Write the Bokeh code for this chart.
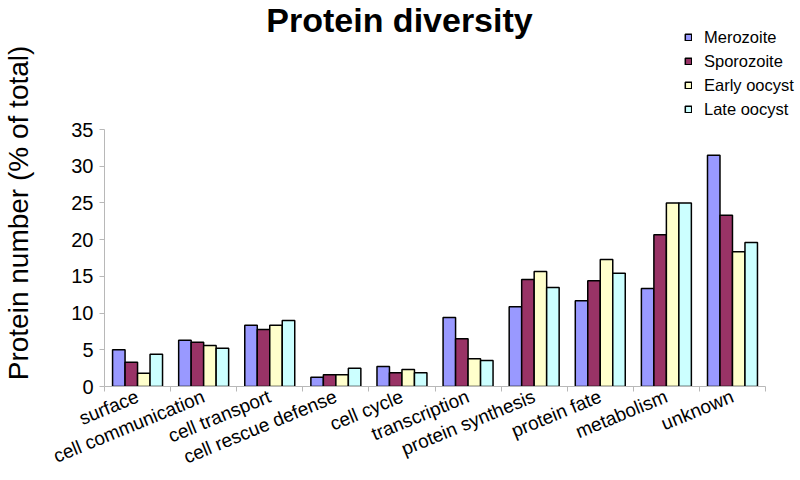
import math
from bokeh.plotting import figure
from bokeh.models import (Range1d, FixedTicker, Label, Legend, LegendItem, ColumnDataSource)
from bokeh.embed import file_html
from bokeh.resources import INLINE

categories = ["surface", "cell communication", "cell transport", "cell rescue defense",
              "cell cycle", "transcription", "protein synthesis", "protein fate",
              "metabolism", "unknown"]
series_names = ["Merozoite", "Sporozoite", "Early oocyst", "Late oocyst"]
merozoite = [5.0, 6.3, 8.35, 1.27, 2.72, 9.4, 10.85, 11.67, 13.35, 31.5]
sporozoite = [3.3, 6.03, 7.76, 1.59, 1.86, 6.5, 14.57, 14.39, 20.66, 23.33]
early_oocyst = [1.8, 5.6, 8.35, 1.59, 2.3, 3.77, 15.66, 17.3, 25.0, 18.34]
late_oocyst = [4.4, 5.2, 8.99, 2.5, 1.86, 3.54, 13.5, 15.43, 25.0, 19.6]
colors = ["#9999FF", "#993366", "#FFFFCC", "#CCFFFF"]
y_ticks = [0, 5, 10, 15, 20, 25, 30, 35]

series = [merozoite, sporozoite, early_oocyst, late_oocyst]
n = len(categories)
centers = [i + 0.5 for i in range(n)]
bar_w = 0.189

p = figure(width=800, height=480, output_backend="svg", toolbar_location=None,
           x_range=Range1d(0, n + 0.529), y_range=Range1d(0, 52.57),
           min_border_left=103, min_border_right=0, min_border_top=0, min_border_bottom=94)
p.outline_line_color = None
p.xgrid.visible = False
p.ygrid.visible = False

items = []
for j, (name, vals, col) in enumerate(zip(series_names, series, colors)):
    xs = [c + (j - 1.5) * bar_w for c in centers]
    src = ColumnDataSource(dict(x=xs, top=vals))
    r = p.vbar(x="x", top="top", width=bar_w, bottom=0, source=src,
               fill_color=col, line_color="black", line_width=1.5)
    items.append(LegendItem(label=name, renderers=[r]))

font = "Liberation Sans"
xa = p.xaxis[0]
xa.ticker = FixedTicker(ticks=centers, minor_ticks=list(range(n + 1)))
xa.bounds = (0, n)
xa.major_label_overrides = {c: cat for c, cat in zip(centers, categories)}
xa.major_tick_line_color = None
xa.minor_tick_line_color = "#b8b8b8"
xa.minor_tick_in = 0
xa.minor_tick_out = 5
xa.axis_line_color = "#b8b8b8"
xa.major_label_orientation = 0.39
xa.major_label_text_font = font
xa.major_label_text_font_size = "19px"
xa.major_label_text_color = "black"
xa.major_label_standoff = 3

ya = p.yaxis[0]
ya.ticker = FixedTicker(ticks=y_ticks)
ya.bounds = (0, 35)
ya.minor_tick_line_color = None
ya.major_tick_in = 0
ya.major_tick_out = 5
ya.major_tick_line_color = "#b8b8b8"
ya.axis_line_color = "#b8b8b8"
ya.major_label_text_font = font
ya.major_label_text_font_size = "20px"
ya.major_label_text_color = "black"
ya.major_label_standoff = 6
ya.axis_label = "Protein number (% of total)" + "\u00a0" * 5
ya.axis_label_text_font = font
ya.axis_label_text_font_size = "28px"
ya.axis_label_text_font_style = "normal"
ya.axis_label_text_color = "black"
ya.axis_label_standoff = 34

p.add_layout(Label(x=295, y=367, x_units="screen", y_units="screen",
                   text="Protein diversity", text_font=font, text_font_size="34px",
                   text_font_style="bold", text_align="center", text_baseline="alphabetic",
                   text_color="black"))

legend = Legend(items=items, location=(580, 267), orientation="vertical",
                glyph_width=8, glyph_height=8, label_height=20, spacing=4,
                label_standoff=12, padding=0, margin=0,
                label_text_font=font, label_text_font_size="16.5px",
                label_text_color="black",
                border_line_color=None, background_fill_alpha=0)
p.add_layout(legend, "center")

open("out.html", "w").write(file_html(p, INLINE))
